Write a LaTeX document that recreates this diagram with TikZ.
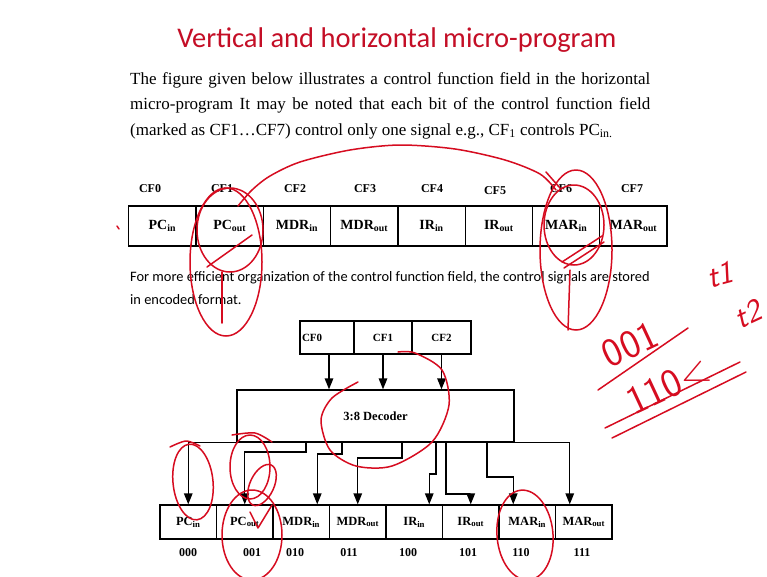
\documentclass[tikz,border=0pt]{standalone}
\usepackage{fontspec}
\setmainfont{Liberation Serif}
\newfontfamily\calibri{Carlito}
\usetikzlibrary{arrows.meta}
\definecolor{titlered}{RGB}{196,14,38}
\definecolor{penred}{RGB}{214,12,32}
\tikzset{
  cellbox/.style={draw, line width=1.3pt, minimum width=67.3pt, minimum height=40pt, inner sep=0pt, font=\fontsize{14}{16}\selectfont\bfseries},
  cflabel/.style={font=\fontsize{12}{14}\selectfont\bfseries, inner sep=0pt},
  bitbox/.style={draw, line width=1.3pt, minimum width=56.5pt, minimum height=34pt, inner sep=0pt, font=\fontsize{12.5}{14}\selectfont\bfseries},
  bitlabel/.style={font=\fontsize{12}{13}\selectfont\bfseries, inner sep=0pt},
  encbox/.style={draw, line width=1.3pt, minimum height=33pt, inner sep=0pt, font=\fontsize{11}{13}\selectfont\bfseries},
  arr/.style={line width=1.3pt, -{Triangle[length=11pt,width=8.5pt]}},
  wire/.style={line width=1.3pt},
  pen/.style={draw=penred, line width=1.5pt, line cap=round, line join=round},
  hand/.style={text=penred, font=\sffamily\fontsize{40}{40}\selectfont, inner sep=0pt}
}
\begin{document}
\begin{tikzpicture}[x=1pt,y=-1pt]
\fill[white] (0,0) rectangle (767,576);
\useasboundingbox (0,0) rectangle (767,576);

% title and text
\node[font=\calibri\fontsize{28.5}{30}\selectfont, text=titlered] (title) at (397,40) {Vertical and horizontal micro-program};
\node[anchor=north west, inner sep=0pt, text width=520pt, align=justify, font=\fontsize{17}{25.5}\selectfont] (para1) at (130,72)
 {The figure given below illustrates a control function field in the horizontal\linebreak micro-program It may be noted that each bit of the control function field\linebreak (marked as CF1\ldots CF7) control only one signal e.g., CF\textsubscript{1} controls PC\textsubscript{in.}};
\node[anchor=north west, inner sep=0pt, align=left, font=\calibri\fontsize{14.4}{23}\selectfont] (para2) at (130,271)
 {For more efficient organization of the control function field, the control signals are stored\\in encoded format.};

% horizontal control function field
\foreach \i/\t in {0/PC\textsubscript{in},1/PC\textsubscript{out},2/MDR\textsubscript{in},3/MDR\textsubscript{out},4/IR\textsubscript{in},5/IR\textsubscript{out},6/MAR\textsubscript{in},7/MAR\textsubscript{out}}
  \node[cellbox] (h\i) at ({128.7+67.3*(\i+0.5)},226) {\t};
\foreach \i/\x/\y in {0/150/189,1/222/189,2/295/189,3/365/189,4/432/189,5/495/191,6/561/189,7/632/189}
  \node[cflabel] (cf\i) at (\x,\y) {CF\i};

% encoded field
\node[encbox, minimum width=54pt, text width=50pt, align=left] (c0) at (327,337.5) {CF0};
\node[encbox, minimum width=58pt] (c1) at (383,337.5) {CF1};
\node[encbox, minimum width=59pt] (c2) at (441.5,337.5) {CF2};
\node[encbox, minimum width=277pt, minimum height=52pt, font=\fontsize{12.5}{14}\selectfont\bfseries] (dec) at (375.5,416) {3:8 Decoder};
\coordinate (a0) at ([xshift=2pt]c0.south);
\draw[arr] (a0) -- (a0 |- dec.north);
\draw[arr] (c1.south) -- (c1.south |- dec.north);
\draw[arr] (c2.south) -- (c2.south |- dec.north);

% decoded signals
\foreach \i/\t in {0/PC\textsubscript{in},1/PC\textsubscript{out},2/MDR\textsubscript{in},3/MDR\textsubscript{out},4/IR\textsubscript{in},5/IR\textsubscript{out},6/MAR\textsubscript{in},7/MAR\textsubscript{out}}
  \node[bitbox] (b\i) at ({160+56.5*(\i+0.5)},522) {\t};
\foreach \i/\x/\t in {0/188/000,1/252/001,2/295/010,3/349/011,4/408/100,5/468/101,6/521/110,7/582/111}
  \node[bitlabel] (bit\i) at (\x,553) {\t};

\coordinate (t0) at (b0.north);
\coordinate (t1) at (b1.north);
\coordinate (t2) at ([xshift=16pt]b2.north);
\coordinate (t3) at (b3.north);
\coordinate (t4) at ([xshift=15pt]b4.north);
\coordinate (t5) at (b5.north);
\coordinate (t6) at ([xshift=-14pt]b6.north);
\coordinate (t7) at ([xshift=-14pt]b7.north);
\coordinate (o1) at (306,442);
\coordinate (o2) at (342,442);
\coordinate (o3) at (402,442);
\coordinate (o4) at (436,442);
\coordinate (o5) at (446,442);
\coordinate (o6) at (487,442);

\draw[wire] (t0 |- dec.south) -- (t7 |- dec.south);
\draw[arr] (t0 |- dec.south) -- (t0);
\draw[arr] (o1) -- ++(0,10) -| (t1);
\draw[arr] (o2) -- ++(0,12) -| (t2);
\draw[arr] (o3) -- ++(0,16) -| (t3);
\draw[arr] (o4) -- ++(0,32) -| (t4);
\draw[arr] (o5) -- ++(0,52) -| (t5);
\draw[arr] (o6) -- ++(0,35) -| (t6);
\draw[arr] (t7 |- dec.south) -- (t7);

% red handwritten annotations
\draw[pen] (117,226) -- (119,229);
\draw[pen] plot[smooth] coordinates {(238,206) (252,190) (270,176) (300,162) (350,150) (400,145) (455,149) (505,160) (540,174) (556,190)};
\draw[pen] (546,172) -- (560,188);
\draw[pen] (230,230) ellipse [x radius=33, y radius=42];
\draw[pen] (226,262) ellipse [x radius=36, y radius=74];
\draw[pen] (222,272) -- (222,323);
\draw[pen] (207,267) -- (252,235);
\draw[pen] (576,250) ellipse [x radius=36, y radius=80];
\draw[pen] (574,225) ellipse [x radius=30, y radius=40];
\draw[pen] (562,262) -- (602,236);
\draw[pen] (564,268) -- (604,242);
\draw[pen] (570,270) -- (568,330);
\draw[pen] plot[smooth] coordinates {(358,382) (332,398) (321,420) (330,450) (356,466) (392,466) (432,442) (449,405) (442,370) (415,353) (398,352)};
\draw[pen] plot[smooth] coordinates {(170,447) (186,441) (200,446)};
\draw[pen, rotate around={6:(193,482)}] (193,482) ellipse [x radius=20, y radius=38];
\draw[pen] plot[smooth] coordinates {(232,435) (255,433) (272,442)};
\draw[pen] (250,467) ellipse [x radius=20, y radius=32];
\draw[pen, rotate around={-25:(262,485)}] (262,485) ellipse [x radius=12, y radius=22];
\draw[pen] (252,535) ellipse [x radius=30, y radius=45];
\draw[pen] (250,512) -- (258,528) -- (272,505);
\draw[pen, rotate around={5:(525,535)}] (525,535) ellipse [x radius=28, y radius=45];

\node[hand, rotate=15, font=\sffamily\itshape\fontsize{32}{32}\selectfont] (ht1) at (720,275) {t1};
\node[hand, rotate=25] (h001) at (630,345) {001};
\draw[pen] (598,390) -- (688,328);
\node[hand, rotate=25] (h110) at (668,385) {110<};
\node[hand, rotate=25, font=\sffamily\itshape\fontsize{32}{32}\selectfont] (ht2) at (748,314) {t2};
\draw[pen] (605,428) -- (740,362);
\draw[pen] (612,438) -- (746,372);
\end{tikzpicture}
\end{document}
